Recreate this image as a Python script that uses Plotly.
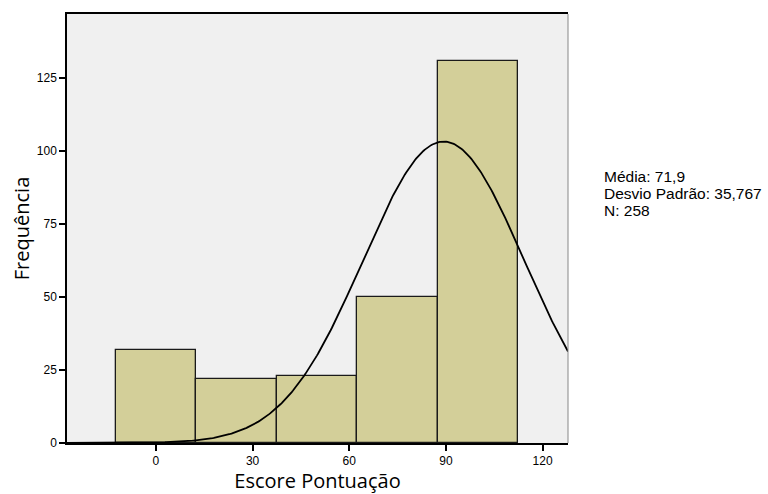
import numpy as np
import plotly.graph_objects as go

# Histogram data (bin centers and counts)
bin_centers = [0, 25, 50, 75, 100]
counts = [32, 22, 23, 50, 131]
bin_width = 25

# Normal curve as displayed (axis units)
curve_mean = 89.3
curve_sd = 25.0
curve_peak = 103.3

x_ticks = [0, 30, 60, 90, 120]
y_ticks = [0, 25, 50, 75, 100, 125]

stats_lines = ["Média: 71,9", "Desvio Padrão: 35,767", "N: 258"]
stats_y = [0.622, 0.581, 0.541]

x_range = [-27.6, 127.9]
y_range = [0, 147]

xc = np.linspace(x_range[0], x_range[1], 400)
yc = curve_peak * np.exp(-0.5 * ((xc - curve_mean) / curve_sd) ** 2)

fig = go.Figure()
fig.add_trace(go.Bar(
    x=bin_centers, y=counts, width=[bin_width] * len(bin_centers),
    marker=dict(color="#D3CF99", line=dict(color="#1a1a1a", width=1.3)),
    hoverinfo="x+y", showlegend=False,
))
fig.add_trace(go.Scatter(
    x=xc, y=yc, mode="lines", line=dict(color="black", width=1.8),
    showlegend=False, hoverinfo="skip",
))

annotations = [dict(
    text=t, xref="paper", yref="paper", x=1.068, y=yy,
    xanchor="left", yanchor="middle", showarrow=False, align="left",
    font=dict(family="Liberation Sans, Arial, sans-serif", size=15.5, color="black"),
) for t, yy in zip(stats_lines, stats_y)]

fig.update_layout(
    width=768, height=494,
    margin=dict(l=67, r=200, t=14, b=51),
    paper_bgcolor="white",
    plot_bgcolor="#F0F0F0",
    bargap=0,
    font=dict(family="Liberation Sans, Arial, sans-serif", size=12, color="black"),
    xaxis=dict(
        range=x_range, tickvals=x_ticks, ticks="outside", ticklen=6, tickwidth=1.5,
        tickcolor="black", showline=True, linecolor="black", linewidth=1.5,
        mirror=True, showgrid=False, zeroline=False, automargin=False,
        tickfont=dict(size=12),
        title=dict(text="Escore Pontuação", font=dict(family="Open Sans, sans-serif", size=20), standoff=4),
    ),
    yaxis=dict(
        range=y_range, tickvals=y_ticks, ticks="outside", ticklen=6, tickwidth=1.5,
        tickcolor="black", showline=True, linecolor="black", linewidth=1.5,
        showgrid=False, zeroline=False, automargin=False,
        tickfont=dict(size=12),
        title=dict(text="Frequência", font=dict(family="Open Sans, sans-serif", size=20), standoff=2),
    ),
    shapes=[dict(type="line", xref="paper", yref="paper", x0=1, x1=1, y0=0, y1=1,
                 line=dict(color="#888888", width=1))],
    annotations=annotations,
)

fig.write_html("out.html", config={"displayModeBar": False},
               post_script="document.body.style.margin='0';")
